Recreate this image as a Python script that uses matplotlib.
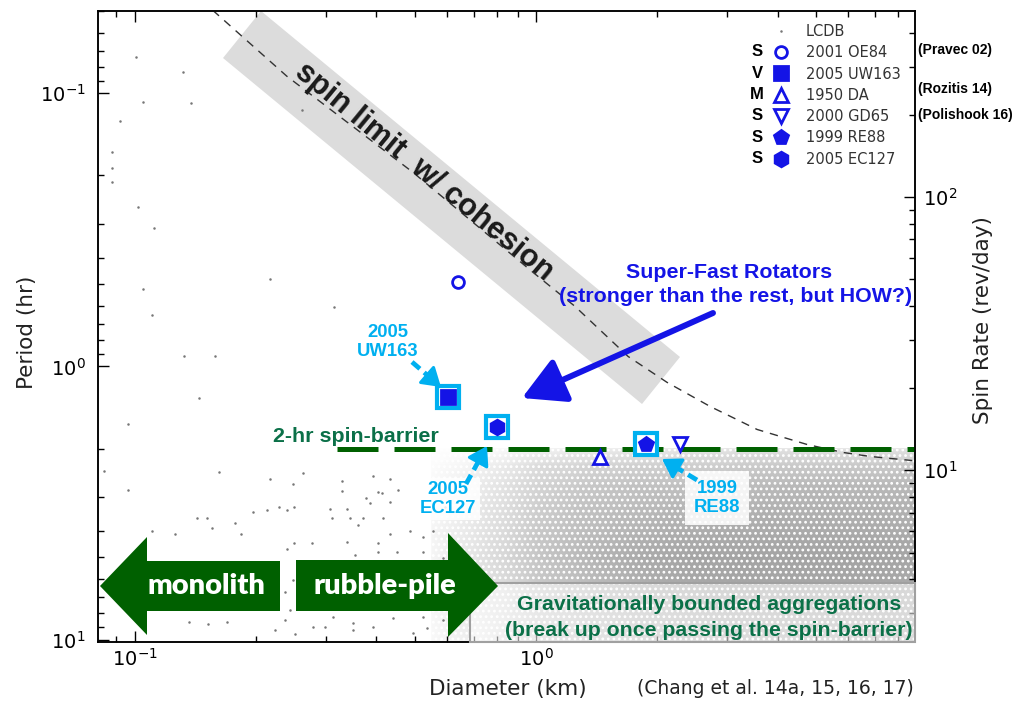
import matplotlib
matplotlib.use('Agg')
import matplotlib.pyplot as plt
from matplotlib.colors import LinearSegmentedColormap
from matplotlib.lines import Line2D
from matplotlib.patches import Polygon, Rectangle
from matplotlib.ticker import NullFormatter

# ---- LCDB background: sparse points (diameter km, period hr)
lcdb_d = [0.1005, 0.1318, 0.1047, 0.1379, 0.0918, 0.0877, 0.0877, 0.0877, 0.2609, 0.1017,
          0.1115, 0.2172, 0.1047, 0.3135, 0.1102, 0.1324, 0.1584, 0.1444, 0.0961, 0.0837,
          0.1620, 0.2624, 0.0961, 0.2172, 0.2478, 0.3282, 0.3926, 0.4325, 0.4036, 0.3282,
          0.4130, 0.4529, 0.3767, 0.4325, 0.2133, 0.2393, 0.2491, 0.3379, 0.1512, 0.4150,
          0.3435, 0.1102, 0.1259, 0.1428, 0.1556, 0.1775, 0.1838, 0.1968, 0.2286, 0.3063,
          0.3098, 0.3597, 0.3707, 0.3855, 0.3379, 0.2491, 0.2761, 0.2393, 0.4036, 0.4325,
          0.4853, 0.5224, 0.5534, 0.5929, 0.4036, 0.4498, 0.5224, 0.5861, 0.3539, 0.2366,
          0.2478, 0.2436, 0.2366, 0.3580, 0.3793, 0.4246, 0.4853, 0.5346, 0.5534, 0.5768,
          0.5534, 0.3926, 0.3379, 0.3119, 0.2977, 0.3498, 0.3926, 0.4396, 0.5224, 0.5346,
          0.4932, 0.3498, 0.2506, 0.2780, 0.1363, 0.1520, 0.1696, 0.2234, 0.5861]
lcdb_p = [0.0738, 0.0838, 0.1079, 0.1088, 0.1268, 0.1644, 0.1882, 0.2118, 0.1154, 0.2616,
          0.3126, 0.4766, 0.5227, 0.6081, 0.6501, 0.9189, 0.9120, 1.300, 1.618, 2.404,
          2.425, 2.445, 2.822, 2.593, 2.684, 2.636, 2.528, 2.593, 2.871, 2.845,
          2.896, 2.822, 3.020, 3.125, 3.367, 3.367, 3.283, 3.311, 3.573, 3.573,
          3.573, 3.990, 4.121, 3.573, 3.917, 3.726, 4.121, 3.396, 3.258, 3.311,
          3.573, 3.793, 3.573, 3.148, 4.375, 4.446, 4.446, 4.677, 4.416, 4.121,
          4.018, 4.198, 4.018, 3.283, 4.764, 4.797, 4.797, 5.012, 4.887, 6.668,
          6.026, 7.762, 8.446, 5.546, 6.180, 6.026, 5.546, 6.026, 5.408, 6.561,
          7.129, 7.129, 7.568, 8.237, 8.954, 8.670, 8.954, 8.299, 8.237, 9.036,
          9.418, 9.183, 9.506, 8.954, 8.590, 8.730, 8.590, 9.183, 8.446]

# ---- LCDB dense cloud: estimated point density on a grid (0 = empty, 1 = solid)
dense_d = [0.55, 0.7, 0.85, 1.0, 1.3, 1.7, 2.2, 3.0, 4.0, 5.5, 7.0, 8.8]
dense_p = [2.0, 2.3, 2.7, 3.2, 4.0, 5.0, 6.3, 8.0, 10.2]
dense_level = [
    [0.00, 0.02, 0.05, 0.10, 0.15, 0.18, 0.20, 0.22, 0.25, 0.25, 0.25, 0.25],
    [0.02, 0.10, 0.18, 0.28, 0.35, 0.38, 0.40, 0.42, 0.45, 0.45, 0.45, 0.45],
    [0.05, 0.15, 0.25, 0.35, 0.45, 0.50, 0.52, 0.55, 0.58, 0.60, 0.60, 0.60],
    [0.06, 0.18, 0.28, 0.40, 0.50, 0.55, 0.60, 0.62, 0.65, 0.65, 0.65, 0.65],
    [0.08, 0.20, 0.32, 0.45, 0.55, 0.62, 0.68, 0.70, 0.72, 0.72, 0.72, 0.72],
    [0.08, 0.22, 0.35, 0.48, 0.60, 0.70, 0.75, 0.78, 0.78, 0.78, 0.78, 0.75],
    [0.08, 0.20, 0.32, 0.45, 0.55, 0.65, 0.72, 0.75, 0.75, 0.75, 0.75, 0.72],
    [0.06, 0.18, 0.30, 0.42, 0.52, 0.60, 0.65, 0.70, 0.70, 0.70, 0.70, 0.68],
    [0.05, 0.15, 0.28, 0.40, 0.50, 0.55, 0.60, 0.65, 0.65, 0.65, 0.65, 0.65],
]

# ---- spin limit with cohesion
limit_d = [0.1565, 0.2393, 0.4934, 0.983, 1.251, 1.696, 2.122, 2.716, 3.557, 4.741, 5.83, 6.81, 8.66]
limit_p = [0.0497, 0.0866, 0.1947, 0.4525, 0.6029, 0.919, 1.144, 1.401, 1.701, 1.931, 2.065, 2.136, 2.21]

# ---- 2-hr spin barrier
barrier_d = [0.32, 8.8]
barrier_p = [2.0, 2.0]

# ---- super-fast rotators
sfr_names = ['2001 OE84', '2005 UW163', '1950 DA', '2000 GD65', '1999 RE88', '2005 EC127']
sfr_types = ['S', 'V', 'M', 'S', 'S', 'S']
sfr_d = [0.639, 0.603, 1.445, 2.29, 1.88, 0.799]
sfr_p = [0.489, 1.299, 2.15, 1.92, 1.93, 1.66]
highlighted = ['2005 UW163', '2005 EC127', '1999 RE88']
refs = ['(Pravec 02)', '(Rozitis 14)', '(Polishook 16)']

W, H = 1015, 705
blue = '#1414e6'
cyan = '#00b0f0'
green_txt = '#0b7048'
green_arrow = '#006000'
arial = 'Liberation Sans'

plt.rcParams['hatch.linewidth'] = 1.2

fig = plt.figure(figsize=(W / 100, H / 100), dpi=100)

# underlay for the grey band, main axes, overlay for annotations (pixel coords)
under = fig.add_axes([0, 0, 1, 1], zorder=0)
under.set_xlim(0, W); under.set_ylim(H, 0); under.axis('off')

ax = fig.add_axes([98 / W, 1 - 642 / H, (915 - 98) / W, (642 - 11) / H], zorder=1)
ax.set_facecolor('none')
ax2 = ax.twinx()
ax2.set_zorder(2)

ov = fig.add_axes([0, 0, 1, 1], zorder=3)
ov.set_xlim(0, W); ov.set_ylim(H, 0); ov.axis('off')

ax.set_xscale('log')
ax.set_yscale('log')
ax.set_xlim(0.081, 8.8)
ax.set_ylim(10.2, 0.05)
ax2.set_yscale('log')
ax2.set_ylim(24 / 10.2, 24 / 0.05)

# LCDB: dense cloud as shaded density with a speckle texture, sparse points as dots
cmap = LinearSegmentedColormap.from_list('lcdb', ['white', '#8a8a8a'])
ax.pcolormesh(dense_d, dense_p, dense_level, shading='gouraud', cmap=cmap, vmin=0, vmax=1,
              zorder=1, antialiased=False)
ax.add_patch(Polygon([(dense_d[0], dense_p[0]), (dense_d[-1], dense_p[0]),
                      (dense_d[-1], dense_p[-1]), (dense_d[0], dense_p[-1])],
                     closed=True, fc='none', ec='white', lw=0, hatch='...', zorder=1.5))
ax.plot(lcdb_d, lcdb_p, ls='none', marker='o', ms=1.8, mew=0, color='#777777', zorder=2)

# curves
ax.plot(limit_d, limit_p, color='#333333', lw=1.0, dashes=(6, 5), zorder=3)
ax.plot(barrier_d, barrier_p, color=green_arrow, lw=3.6, dashes=(8.2, 3.2), zorder=3)

# highlight squares then objects
for name, d, p in zip(sfr_names, sfr_d, sfr_p):
    if name in highlighted:
        ax.plot(d, p, marker='s', ms=15.5, mfc='white', mec=cyan, mew=3, zorder=4)

sfr_style = {
    '2001 OE84': dict(marker='o', ms=8.5, mfc='white'),
    '2005 UW163': dict(marker='s', ms=9.5, mfc=blue),
    '1950 DA': dict(marker='^', ms=9.5, mfc='white'),
    '2000 GD65': dict(marker='v', ms=9.5, mfc='white'),
    '1999 RE88': dict(marker='p', ms=10.5, mfc=blue),
    '2005 EC127': dict(marker='h', ms=10.5, mfc=blue),
}
handles = [Line2D([], [], ls='none', marker='o', ms=1.8, mew=0, color='#777777')]
labels = ['LCDB']
for name, d, p in zip(sfr_names, sfr_d, sfr_p):
    st = sfr_style[name]
    ax.plot(d, p, ls='none', mec=blue, mew=2, zorder=5, **st)
    handles.append(Line2D([], [], ls='none', mec=blue, mew=2, **st))
    labels.append(name)

# axes styling
for a in (ax, ax2):
    for s in a.spines.values():
        s.set_linewidth(1.1)
        s.set_color('black')
ax.tick_params(axis='both', which='major', direction='in', length=8, width=1, labelsize=14, top=True, right=False)
ax.tick_params(axis='both', which='minor', direction='in', length=4, width=1, top=True, right=False)
ax.tick_params(axis='y', which='both', pad=9)
ax.tick_params(axis='x', which='both', pad=4.5)
ax2.tick_params(axis='y', which='major', direction='in', length=8, width=1, labelsize=14, pad=6)
ax2.tick_params(axis='y', which='minor', direction='in', length=4, width=1)
ax.xaxis.set_minor_formatter(NullFormatter())
ax.yaxis.set_minor_formatter(NullFormatter())
ax2.yaxis.set_minor_formatter(NullFormatter())

ax.set_xlabel('Diameter (km)', fontsize=15.5, color='#222222')
ax.xaxis.set_label_coords(0.502, -0.0586)
ax.set_ylabel('Period (hr)', fontsize=15.5, color='#222222')
ax.yaxis.set_label_coords(-0.0747, 0.49)
ax2.set_ylabel('Spin Rate (rev/day)', fontsize=15.5, color='#222222')
ax2.yaxis.set_label_coords(1.071, 0.51)

# ---- annotations (pixel coordinates of the overlay)
under.add_patch(Polygon([(261, 11), (680, 357), (642, 404), (223, 58)], closed=True,
                        fc='#dcdcdc', ec='none'))
ov.text(424, 172, 'spin limit  w/ cohesion', rotation=-39.5, rotation_mode='anchor',
        ha='center', va='center', fontsize=22, fontweight='bold', family=arial, color='#1a1a1a')

ov.text(729, 272, 'Super-Fast Rotators', ha='center', va='center', fontsize=15.4,
        fontweight='bold', family=arial, color=blue)
ov.text(736, 297, '(stronger than the rest, but HOW?)', ha='center', va='center', fontsize=15.4,
        fontweight='bold', family=arial, color=blue)
ov.annotate('', xy=(522, 398), xytext=(713, 313),
            arrowprops=dict(arrowstyle='-|>,head_length=1.0,head_width=0.55', color=blue, lw=4.3,
                            mutation_scale=26, shrinkA=0, shrinkB=0))

ov.text(356, 437, '2-hr spin-barrier', ha='center', va='center', fontsize=15.4,
        fontweight='bold', family=arial, color=green_txt)

ov.text(388, 342, '2005\nUW163', ha='center', va='center', fontsize=13.3, fontweight='bold',
        family=arial, color=cyan, linespacing=1.1)
ov.text(448, 499, '2005\nEC127', ha='center', va='center', fontsize=13.3, fontweight='bold',
        family=arial, color=cyan, linespacing=1.1,
        bbox=dict(boxstyle='square,pad=0.2', fc='white', ec='none', alpha=0.85))
ov.text(717, 498, '1999\nRE88', ha='center', va='center', fontsize=13.3, fontweight='bold',
        family=arial, color=cyan, linespacing=1.1,
        bbox=dict(boxstyle='square,pad=0.5', fc='white', ec='none', alpha=0.85))
# dashed cyan pointers: dashed shaft plus a solid head
for x0, y0, x1, y1 in [(412, 362, 441, 387), (466, 484, 487, 446), (697, 480, 662, 459)]:
    ln = ((x1 - x0) ** 2 + (y1 - y0) ** 2) ** 0.5
    ux, uy = (x1 - x0) / ln, (y1 - y0) / ln
    ov.plot([x0, x1 - 12 * ux], [y0, y1 - 12 * uy], color=cyan, lw=3.4, dashes=(2.2, 1.2),
            solid_capstyle='butt', zorder=4)
    ov.annotate('', xy=(x1, y1), xytext=(x1 - 20 * ux, y1 - 20 * uy),
                arrowprops=dict(arrowstyle='-|>,head_length=0.66,head_width=0.42', color=cyan, lw=2.2,
                                mutation_scale=17, shrinkA=0, shrinkB=0), zorder=4)

# gravitational aggregates box
ov.add_patch(Rectangle((470, 583), 445, 59, fc=(1, 1, 1, 0.55), ec='#a0a0a0', lw=1.5, zorder=1))
ov.text(709, 604, 'Gravitationally bounded aggregations', ha='center', va='center', fontsize=15.3,
        fontweight='bold', family=arial, color=green_txt, zorder=3)
ov.text(709, 630, '(break up once passing the spin-barrier)', ha='center', va='center', fontsize=15.3,
        fontweight='bold', family=arial, color=green_txt, zorder=3)

# monolith / rubble-pile arrows
ov.add_patch(Polygon([(100, 586), (147, 537), (147, 561), (280, 561), (280, 611), (147, 611), (147, 635)],
                     closed=True, fc=green_arrow, ec='none', zorder=2))
ov.add_patch(Polygon([(296, 560), (448, 560), (448, 533), (498, 586), (448, 637), (448, 611), (296, 611)],
                     closed=True, fc=green_arrow, ec='none', zorder=2))
ov.text(206, 586, 'monolith', ha='center', va='center', fontsize=21, fontweight='heavy',
        family='Lato', color='white', zorder=3)
ov.text(385, 586, 'rubble-pile', ha='center', va='center', fontsize=21, fontweight='heavy',
        family='Lato', color='white', zorder=3)

# legend with composition letters and references
ov.legend(handles, labels, loc='upper left', bbox_to_anchor=(774, 24), bbox_transform=ov.transData,
          frameon=False, fontsize=10.5, handlelength=1.0, handletextpad=1.2, labelspacing=0.43,
          borderpad=0, borderaxespad=0, labelcolor='#333333')
for i, t in enumerate(sfr_types):
    ov.text(757, 52 + i * 21.3, t, ha='center', va='center', fontsize=12, fontweight='bold',
            family=arial, color='black')
for t, y in zip(refs, [50, 89, 115]):
    ov.text(918, y, t, ha='left', va='center', fontsize=10, fontweight='bold', family=arial, color='black')

ov.text(775, 688, '(Chang et al. 14a, 15, 16, 17)', ha='center', va='center', fontsize=13.5, color='#222222')

fig.savefig('out.png', dpi=100)
